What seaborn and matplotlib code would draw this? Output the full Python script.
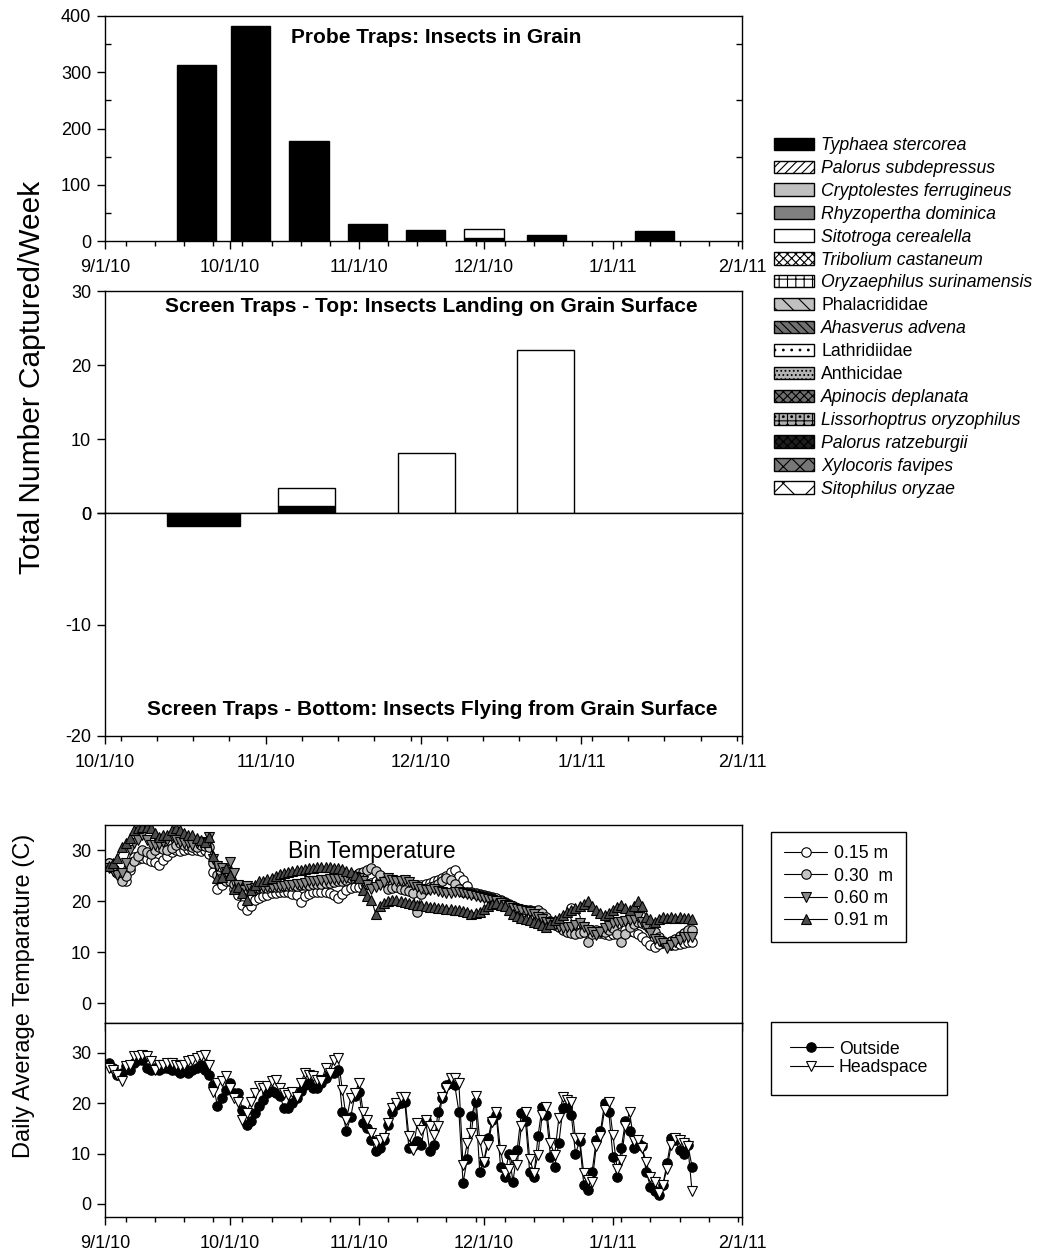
import numpy as np
import pandas as pd
import matplotlib
matplotlib.use("Agg")
import matplotlib.pyplot as plt
import matplotlib.dates as mdates
from matplotlib.patches import Patch
from matplotlib.ticker import FixedLocator, FixedFormatter, MultipleLocator
import seaborn as sns

# ---------------------------------------------------------------- data
species = [
    "Typhaea stercorea", "Palorus subdepressus", "Cryptolestes ferrugineus",
    "Rhyzopertha dominica", "Sitotroga cerealella", "Tribolium castaneum",
    "Oryzaephilus surinamensis", "Phalacrididae", "Ahasverus advena",
    "Lathridiidae", "Anthicidae", "Apinocis deplanata",
    "Lissorhoptrus oryzophilus", "Palorus ratzeburgii", "Xylocoris favipes",
    "Sitophilus oryzae",
]
# family names are set upright, genus/species names in italics
species_italic = [True, True, True, True, True, True, True, False, True,
                  False, False, True, True, True, True, True]

# probe traps (insects in grain), total per week
probe_dates = ["2010-09-23", "2010-10-06", "2010-10-20", "2010-11-03",
               "2010-11-17", "2010-12-01", "2010-12-16", "2011-01-11"]
probe_typhaea = [313, 382, 177, 31, 20, 5, 11, 17]
probe_sitotroga = [0, 0, 0, 0, 0, 16, 0, 0]

# screen traps - top (landing on grain surface)
top_dates = ["2010-11-09", "2010-12-02", "2010-12-25"]
top_typhaea = [1.0, 0.0, 0.0]
top_sitotroga = [2.4, 8.1, 22.0]

# screen traps - bottom (flying from grain surface), plotted downward
bottom_dates = ["2010-10-20"]
bottom_typhaea = [-1.2]

# daily average temperatures (C), first day 2010-09-02
temp_start = "2010-09-02"
bin_015 = [
    27.5, 26.5, 25.8, 24.5, 23.9, 26.1, 28.8, 28.4, 28.6, 28.4, 28.0, 27.8, 27.1, 28.1, 29.0,
    29.7, 30.0, 29.8, 30.0, 30.2, 30.0, 30.0, 29.8, 30.0, 29.4, 25.8, 22.5, 23.2, 24.8,
    23.9, 22.5, 21.2, 19.3, 18.3, 19.0, 20.3, 20.6, 21.0, 21.3, 21.6, 21.7, 21.9, 21.9, 21.8,
    21.5, 21.2, 19.9, 21.0, 21.5, 21.8, 21.9, 21.9, 21.8, 21.6, 21.2, 20.6, 21.5, 22.2, 22.6, 22.9,
    22.9, 23.2, 23.5, 23.7, 23.9, 23.9, 23.8, 23.7, 23.6, 23.5, 23.5, 23.4, 23.3, 23.2, 23.2,
    23.3, 23.5, 23.7, 23.9, 24.2, 24.5, 25.0, 25.8, 26.1, 25.0, 24.2, 23.0, 21.9, 21.7, 21.5,
    21.3, 21.1, 20.9, 20.6, 20.3, 19.9, 19.5, 19.0, 18.6, 18.3, 18.0, 17.6, 17.3, 17.0, 16.6,
    16.3, 16.0, 15.7, 15.5, 15.4, 16.5, 18.6, 17.0, 15.5, 14.7, 14.4, 14.0, 13.8, 13.7, 13.5, 13.4,
    13.5, 13.7, 14.0, 14.4, 14.2, 14.0, 13.6, 13.0, 12.3, 11.4, 11.1, 11.6, 12.1, 11.8, 11.4,
    11.4, 11.6, 11.9, 12.1, 12.1,
]
bin_030 = [
    27.5, 26.5, 25.5, 23.9, 25.0, 26.8, 28.0, 29.0, 30.0, 29.7, 29.4, 30.0, 30.7, 30.3, 30.0,
    30.5, 31.0, 31.4, 31.0, 31.0, 30.7, 30.7, 31.0, 30.8, 30.7, 27.5, 25.2, 24.5, 24.0,
    23.9, 23.5, 23.0, 22.5, 22.4, 22.3, 22.5, 22.6, 22.6, 22.7, 22.8, 22.8, 22.9, 23.0, 23.0,
    23.1, 23.1, 23.2, 23.2, 23.3, 23.4, 23.4, 23.5, 23.6, 23.7, 23.8, 23.9, 24.0, 24.2, 24.5, 25.0,
    25.5, 25.8, 26.2, 26.5, 26.0, 25.2, 24.0, 22.5, 22.6, 22.8, 22.5, 22.3, 22.0, 21.6, 18.0,
    21.5, 22.5, 22.8, 23.0, 23.5, 23.9, 24.5, 24.2, 23.5, 22.5, 21.9, 21.8, 21.6, 21.4, 21.2,
    21.0, 20.9, 20.6, 20.3, 20.0, 19.6, 19.3, 19.0, 18.7, 18.5, 18.3, 18.3, 18.2, 18.3, 17.8,
    17.0, 16.2, 15.4, 15.0, 14.4, 14.0, 13.7, 13.5, 13.8, 14.0, 12.1, 13.5, 14.4, 14.2, 14.0, 14.4,
    14.7, 13.5, 12.1, 13.5, 15.0, 15.5, 16.0, 15.8, 15.4, 15.0, 14.0, 13.0, 12.2, 11.8, 12.3,
    12.7, 13.2, 13.7, 14.4, 14.4,
]
bin_060 = [
    26.5, 26.0, 25.2, 25.5, 27.5, 30.0, 31.4, 32.0, 33.0, 32.0, 31.0, 31.0, 31.2, 31.7, 32.0,
    32.4, 32.0, 31.7, 31.4, 31.4, 31.0, 31.4, 31.7, 31.4, 32.7, 28.4, 27.0, 26.5, 25.8,
    27.8, 25.5, 23.2, 22.2, 23.0, 22.5, 22.7, 22.8, 22.9, 22.9, 22.9, 23.0, 23.0, 23.1, 23.2,
    23.3, 23.4, 23.5, 23.7, 23.9, 24.0, 24.0, 24.1, 24.2, 24.3, 24.3, 24.4, 24.5, 24.6, 24.8, 24.8,
    24.5, 23.9, 23.2, 22.5, 22.8, 23.2, 23.8, 24.5, 24.2, 23.9, 24.0, 24.2, 23.8, 23.2, 22.8,
    22.5, 22.3, 22.2, 22.4, 22.0, 21.9, 21.7, 21.6, 21.8, 21.9, 21.6, 21.4, 21.2, 21.0, 20.8,
    20.6, 20.5, 20.3, 20.0, 19.6, 19.3, 19.0, 18.6, 18.5, 18.3, 18.1, 18.0, 17.6, 17.0, 16.5,
    16.0, 15.7, 15.4, 15.0, 14.7, 14.9, 15.0, 15.3, 15.7, 15.0, 14.4, 13.9, 13.4, 14.0, 14.7, 15.2,
    15.7, 15.9, 16.0, 16.2, 16.3, 16.6, 17.0, 16.0, 15.0, 13.8, 12.7, 12.2, 11.8, 10.8, 11.5,
    12.0, 12.5, 13.0, 13.0, 13.0,
]
bin_091 = [
    27.0, 27.5, 28.5, 30.7, 31.5, 32.5, 34.0, 34.4, 34.6, 34.6, 34.4, 33.5, 32.7, 33.0, 33.0,
    34.0, 34.4, 34.0, 33.5, 33.0, 33.0, 32.4, 32.0, 31.7, 32.7, 29.0, 24.5, 24.8, 26.5,
    25.2, 22.5, 22.9, 21.6, 20.3, 22.2, 23.2, 23.9, 24.0, 24.3, 24.6, 25.0, 25.3, 25.5, 25.7,
    25.9, 26.1, 26.2, 26.4, 26.5, 26.6, 26.7, 26.8, 26.8, 26.7, 26.6, 26.5, 26.3, 26.0, 25.8, 25.2,
    24.5, 22.2, 21.0, 20.3, 17.6, 19.0, 19.6, 20.0, 20.3, 20.2, 20.0, 19.8, 19.6, 19.5, 19.3,
    19.2, 19.0, 18.9, 18.8, 18.6, 18.6, 18.5, 18.4, 18.3, 18.3, 18.2, 18.0, 17.6, 17.8, 18.0,
    18.5, 19.0, 19.4, 19.6, 19.3, 19.0, 18.3, 17.6, 17.2, 16.7, 16.5, 16.3, 16.0, 15.7, 15.4,
    15.0, 15.5, 16.3, 16.8, 17.3, 18.0, 18.3, 18.6, 19.0, 19.5, 20.0, 19.0, 18.3, 17.8, 17.3, 17.8,
    18.3, 18.8, 19.3, 18.6, 18.3, 19.0, 20.0, 19.0, 17.0, 16.5, 16.0, 16.5, 17.0, 16.8, 17.0,
    16.8, 17.0, 16.8, 16.7, 16.5,
]
outside_temp = [
    28.0, 27.0, 25.5, 26.0, 27.3, 26.5, 28.0, 28.5, 28.5, 27.0, 26.5, 27.0, 26.5, 27.0, 27.0,
    26.5, 26.5, 26.0, 27.0, 26.0, 26.5, 27.0, 27.5, 26.5, 25.5, 23.5, 19.5, 21.0, 22.6,
    24.0, 22.0, 22.0, 18.7, 15.7, 16.4, 18.0, 19.5, 20.7, 22.0, 22.5, 22.0, 21.5, 19.0, 19.0,
    20.0, 21.0, 22.5, 23.5, 24.0, 23.0, 23.0, 24.0, 25.0, 26.0, 26.0, 26.5, 18.3, 14.4, 17.2, 21.5,
    22.2, 16.0, 15.0, 12.7, 10.4, 11.0, 12.7, 15.7, 18.3, 19.7, 20.0, 20.3, 11.0, 11.4, 12.4,
    11.7, 16.7, 10.4, 11.7, 18.3, 21.0, 23.6, 24.0, 23.6, 18.3, 4.1, 9.0, 17.4, 20.3, 6.4,
    8.4, 13.0, 16.7, 17.7, 7.4, 5.4, 10.0, 4.4, 10.7, 18.0, 16.4, 6.4, 5.4, 13.4, 19.3,
    17.7, 9.4, 7.4, 12.0, 19.0, 19.3, 17.7, 10.0, 12.4, 3.8, 2.8, 6.4, 12.7, 14.4, 20.0, 18.3,
    9.4, 5.4, 11.0, 16.4, 14.4, 11.0, 12.0, 11.4, 6.4, 3.4, 2.5, 1.8, 3.8, 8.1, 13.0,
    12.7, 10.7, 10.0, 11.7, 7.4,
]
headspace_temp = [
    27.0, 26.5, 25.6, 24.3, 27.3, 27.6, 29.3, 29.3, 29.5, 29.3, 28.3, 26.6, 27.6, 27.6, 28.0,
    27.9, 27.6, 27.4, 27.6, 28.3, 28.6, 29.0, 29.3, 29.6, 27.6, 22.3, 24.0, 24.3, 25.3,
    23.0, 21.0, 20.3, 16.7, 18.0, 20.3, 22.0, 23.3, 23.0, 23.3, 24.3, 24.6, 23.0, 22.0, 21.7,
    22.3, 21.3, 24.0, 26.0, 25.6, 25.3, 24.6, 24.3, 27.0, 26.0, 28.6, 29.0, 22.6, 16.7, 21.0, 22.0,
    24.0, 18.3, 16.7, 14.0, 12.0, 12.7, 13.0, 16.0, 19.0, 20.0, 21.3, 21.3, 13.4, 10.7, 16.0,
    14.7, 16.7, 15.4, 13.7, 15.4, 21.3, 23.0, 25.0, 25.0, 24.0, 7.7, 12.0, 14.0, 21.5, 12.7,
    8.4, 11.7, 16.2, 18.3, 10.7, 6.1, 7.0, 9.0, 7.7, 15.4, 18.3, 9.0, 6.1, 9.7, 17.7,
    19.3, 12.0, 9.7, 17.0, 21.3, 20.7, 20.3, 13.0, 13.0, 6.1, 4.8, 4.4, 11.4, 13.4, 18.7, 20.3,
    13.7, 7.0, 8.7, 15.4, 18.3, 12.4, 12.7, 11.0, 8.4, 5.4, 4.4, 2.1, 3.8, 7.0, 11.7,
    13.0, 12.7, 12.0, 11.4, 2.5,
]

month_dates = ["2010-09-01", "2010-10-01", "2010-11-01", "2010-12-01", "2011-01-01", "2011-02-01"]
month_labels = ["9/1/10", "10/1/10", "11/1/10", "12/1/10", "1/1/11", "2/1/11"]

# ---------------------------------------------------------------- style
sns.set_theme(style="ticks")
plt.rcParams["font.family"] = ["Liberation Sans", "DejaVu Sans"]
plt.rcParams["hatch.linewidth"] = 0.8
plt.rcParams["axes.unicode_minus"] = False
for key in ("axes.edgecolor", "xtick.color", "ytick.color", "text.color",
            "axes.labelcolor", "xtick.labelcolor", "ytick.labelcolor"):
    plt.rcParams[key] = "black"

W, H = 1038, 1254
TICK_FS = 13
LEG_FS = 12.7
TITLE_FS = 15


def rect(l, t, r, b):
    return [l / W, 1 - b / H, (r - l) / W, (b - t) / H]


def dnum(s):
    return mdates.date2num(pd.Timestamp(s))


def style_axes(ax):
    ax.set_facecolor("white")
    for sp in ax.spines.values():
        sp.set_visible(True)
        sp.set_color("black")
        sp.set_linewidth(1.0)
    ax.tick_params(which="major", direction="out", length=6, width=1,
                   labelsize=TICK_FS, colors="black")
    ax.tick_params(which="minor", direction="out", length=3.5, width=1, colors="black")
    ax.tick_params(axis="x", pad=7)
    ax.tick_params(axis="y", pad=4)
    ax.grid(False)
    ax.set_xlabel("")
    ax.set_ylabel("")


def date_axis(ax, start, end, labels=True):
    ax.set_xlim(dnum(start), dnum(end))
    pos, lab = [], []
    for d, l in zip(month_dates, month_labels):
        if pd.Timestamp(start) <= pd.Timestamp(d) <= pd.Timestamp(end):
            pos.append(dnum(d))
            lab.append(l)
    ax.xaxis.set_major_locator(FixedLocator(pos))
    ax.xaxis.set_major_formatter(FixedFormatter(lab))
    mondays = pd.date_range(start, end, freq="W-MON")
    ax.xaxis.set_minor_locator(FixedLocator(mdates.date2num(mondays)))
    if not labels:
        ax.tick_params(axis="x", which="both", labelbottom=False)


fig = plt.figure(figsize=(W / 100, H / 100), dpi=100)
fig.patch.set_facecolor("white")

ax_probe = fig.add_axes(rect(105, 16, 742, 241))
ax_top = fig.add_axes(rect(105, 291, 742, 513))
ax_bot = fig.add_axes(rect(105, 513, 742, 736))
ax_bin = fig.add_axes(rect(105, 825, 742, 1023))
ax_air = fig.add_axes(rect(105, 1023, 742, 1217))

# ---------------------------------------------------------------- probe traps
px = mdates.date2num(pd.to_datetime(probe_dates))
ty = np.array(probe_typhaea, dtype=float)
si = np.array(probe_sitotroga, dtype=float)
ax_probe.bar(px, ty, width=9.5, color="black", edgecolor="black", linewidth=1, zorder=3)
m = si > 0
ax_probe.bar(px[m], si[m], bottom=ty[m], width=9.5, color="white",
             edgecolor="black", linewidth=1, zorder=3)
style_axes(ax_probe)
date_axis(ax_probe, "2010-09-01", "2011-02-01")
ax_probe.set_ylim(0, 400)
ax_probe.set_yticks([0, 100, 200, 300, 400])
ax_probe.yaxis.set_minor_locator(MultipleLocator(50))
ax_probe.tick_params(axis="y", which="minor", direction="in", length=4, left=True, right=True)
ax_probe.text(0.52, 0.905, "Probe Traps: Insects in Grain", transform=ax_probe.transAxes,
              ha="center", va="center", fontsize=TITLE_FS, fontweight="bold")

# ---------------------------------------------------------------- screen traps
tx = mdates.date2num(pd.to_datetime(top_dates))
tt = np.array(top_typhaea, dtype=float)
ts = np.array(top_sitotroga, dtype=float)
mt = tt > 0
ax_top.bar(tx[mt], tt[mt], width=11, color="black", edgecolor="black", linewidth=1, zorder=3)
ax_top.bar(tx, ts, bottom=tt, width=11, color="white", edgecolor="black", linewidth=1, zorder=3)
style_axes(ax_top)
date_axis(ax_top, "2010-10-01", "2011-02-01", labels=False)
ax_top.tick_params(axis="x", which="both", bottom=False)
ax_top.set_ylim(0, 30)
ax_top.set_yticks([0, 10, 20, 30])
ax_top.text(0.513, 0.93, "Screen Traps - Top: Insects Landing on Grain Surface",
            transform=ax_top.transAxes, ha="center", va="center",
            fontsize=TITLE_FS, fontweight="bold")

bx = mdates.date2num(pd.to_datetime(bottom_dates))
ax_bot.bar(bx, bottom_typhaea, width=14, color="black", edgecolor="black", linewidth=1, zorder=3)
style_axes(ax_bot)
date_axis(ax_bot, "2010-10-01", "2011-02-01")
ax_bot.set_ylim(-20, 0)
ax_bot.set_yticks([-20, -10, 0])
ax_bot.text(0.513, 0.12, "Screen Traps - Bottom: Insects Flying from Grain Surface",
            transform=ax_bot.transAxes, ha="center", va="center",
            fontsize=TITLE_FS, fontweight="bold")

# ---------------------------------------------------------------- temperatures
tdays = mdates.date2num(pd.date_range(temp_start, periods=len(outside_temp), freq="D"))


def temp_series(ax, values, marker, face, label):
    sns.lineplot(x=tdays, y=values, ax=ax, color="black", linewidth=0.8,
                 marker=marker, markersize=6.8, markerfacecolor=face,
                 markeredgecolor="black", markeredgewidth=0.8,
                 label=label, legend=False, sort=False, estimator=None)
    return ax.lines[-1]


bin_handles = [
    temp_series(ax_bin, bin_015, "o", "white", "0.15 m"),
    temp_series(ax_bin, bin_030, "o", "#c4c4c4", "0.30  m"),
    temp_series(ax_bin, bin_060, "v", "#8a8a8a", "0.60 m"),
    temp_series(ax_bin, bin_091, "^", "#4d4d4d", "0.91 m"),
]
style_axes(ax_bin)
date_axis(ax_bin, "2010-09-01", "2011-02-01", labels=False)
ax_bin.set_ylim(-3.9, 35)
ax_bin.set_yticks([0, 10, 20, 30])
ax_bin.text(0.419, 0.865, "Bin Temperature", transform=ax_bin.transAxes,
            ha="center", va="center", fontsize=16.5)

air_handles = [
    temp_series(ax_air, outside_temp, "o", "black", "Outside"),
    temp_series(ax_air, headspace_temp, "v", "white", "Headspace"),
]
style_axes(ax_air)
date_axis(ax_air, "2010-09-01", "2011-02-01")
ax_air.set_ylim(-2.6, 35.9)
ax_air.set_yticks([0, 10, 20, 30])

# ---------------------------------------------------------------- axis titles
fig.text(32 / W, 1 - 377 / H, "Total Number Captured/Week", rotation=90,
         ha="center", va="center", fontsize=21.5)
fig.text(24 / W, 1 - 996 / H, "Daily Average Temparature (C)", rotation=90,
         ha="center", va="center", fontsize=17)

# ---------------------------------------------------------------- legends
patch_styles = [
    ("black", None), ("white", "////"), ("#c0c0c0", None), ("#808080", None),
    ("white", None), ("white", "xxxx"), ("white", "++"), ("#c0c0c0", "\\\\"),
    ("#707070", "\\\\\\\\"), ("white", ".."), ("#b4b4b4", "...."), ("#6e6e6e", "xxxx"),
    ("#b0b0b0", "++.."), ("#1e1e1e", "xxxx"), ("#777777", "xx"), ("white", "x"),
]
sp_handles = [Patch(facecolor=f, edgecolor="black", hatch=h, linewidth=1)
              for f, h in patch_styles]
leg_sp = fig.legend(sp_handles, species, loc="upper left",
                    bbox_to_anchor=(774 / W, 1 - 137 / H), frameon=False,
                    fontsize=LEG_FS, handlelength=2.27, handleheight=0.7,
                    handletextpad=0.4, labelspacing=0.335, borderpad=0, borderaxespad=0)
for t, it in zip(leg_sp.get_texts(), species_italic):
    t.set_style("italic" if it else "normal")

leg_bin = fig.legend(bin_handles, ["0.15 m", "0.30  m", "0.60 m", "0.91 m"],
                     loc="upper left", bbox_to_anchor=(771 / W, 1 - 832 / H),
                     frameon=True, fancybox=False, edgecolor="black", framealpha=1,
                     fontsize=LEG_FS, handlelength=2.45, handletextpad=0.35,
                     labelspacing=0.3, borderpad=0.75, borderaxespad=0)
leg_bin.get_frame().set_linewidth(1.0)

leg_air = fig.legend(air_handles, ["Outside", "Headspace"],
                     loc="upper left", bbox_to_anchor=(771 / W, 1 - 1022 / H),
                     frameon=True, fancybox=False, edgecolor="black", framealpha=1,
                     fontsize=LEG_FS, handlelength=2.45, handletextpad=0.35,
                     labelspacing=0.1, borderpad=1.05, borderaxespad=0)
leg_air.get_frame().set_linewidth(1.0)

fig.savefig("out.png", dpi=100, facecolor="white")
